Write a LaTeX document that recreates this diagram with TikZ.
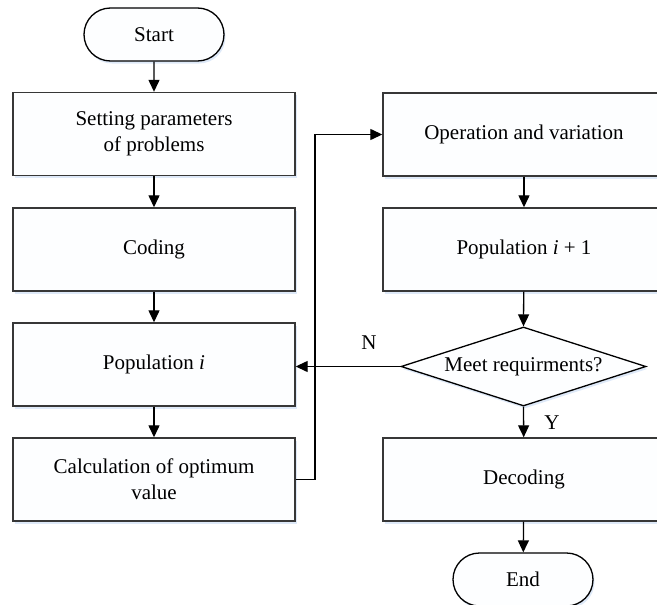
\documentclass[tikz,border=0pt]{standalone}
\usepackage{fontspec}
\setmainfont{Liberation Serif}
\usetikzlibrary{arrows.meta,shapes.geometric,shapes.misc,shadows}
\definecolor{edge}{RGB}{55,55,55}
\definecolor{glow}{RGB}{222,233,248}
\definecolor{paper}{RGB}{253,254,255}
\begin{document}
\begin{tikzpicture}[x=1pt,y=-1pt,
  font=\fontsize{21}{26}\selectfont,
  softshadow/.style={drop shadow={shadow xshift=1.5pt,shadow yshift=-2.5pt,
      fill=glow,opacity=1}},
  procbox/.style={rectangle,draw=edge,line width=1.4pt,fill=paper,
      minimum width=282pt,minimum height=83pt,align=center,inner sep=0pt,softshadow},
  termbox/.style={rounded rectangle,draw=black,line width=1.3pt,fill=paper,
      minimum width=140pt,minimum height=53pt,inner sep=0pt,softshadow},
  decbox/.style={diamond,draw=black,line width=1.3pt,fill=paper,aspect=3.1,
      minimum width=245pt,minimum height=79pt,inner sep=0pt,softshadow},
  flow/.style={draw=black,line width=1.3pt,-{Triangle[length=12pt,width=11pt]}},
  tag/.style={inner sep=0pt}]
\useasboundingbox (0,0) rectangle (657,605);
% left column
\node[termbox] (start) at (154,34.5) {Start};
\node[procbox] (setp) at (154,134) {Setting parameters\\of problems};
\node[procbox] (code) at (154,249.5) {Coding};
\node[procbox] (popi) at (154,364.5) {Population \textit{i}};
\node[procbox] (calc) at (154,479.5) {Calculation of optimum\\value};
% right column
\node[procbox] (oper) at (524,134.5) {Operation and variation};
\node[procbox] (popn) at (524,249.5) {Population \textit{i} + 1};
\node[decbox] (meet) at (523.5,366.5) {Meet requirments?};
\node[procbox] (deco) at (524,479.5) {Decoding};
\node[termbox] (fin) at (523,579.5) {End};
% connectors
\draw[flow] (start) -- (setp);
\draw[flow] (setp) -- (code);
\draw[flow] (code) -- (popi);
\draw[flow] (popi) -- (calc);
\coordinate (loopA) at (315,479.5);
\coordinate (loopB) at (315,134.5);
\draw[flow] (calc.east) -- (loopA) -- (loopB) -- (oper.west);
\draw[flow] (oper) -- (popn);
\draw[flow] (popn) -- (meet.north);
\draw[flow] (meet.west) -- (popi.east |- meet.west);
\draw[flow] (meet.south) -- (deco);
\draw[flow] (deco) -- (fin);
\node[tag] (nlab) at (369,343) {N};
\node[tag] (ylab) at (552,423) {Y};
\end{tikzpicture}
\end{document}
